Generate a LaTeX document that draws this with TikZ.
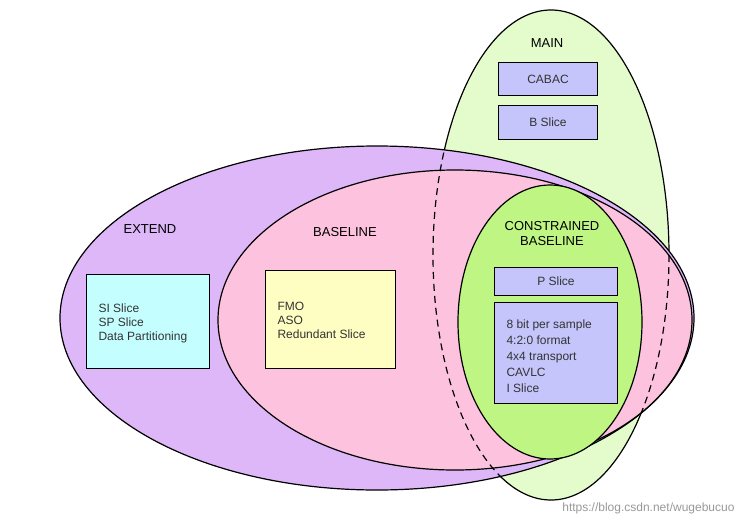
\documentclass[tikz,border=0pt]{standalone}
\usepackage{fontspec}
\setmainfont{Liberation Sans}
\begin{document}
\begin{tikzpicture}[x=1pt,y=-1pt,
  set/.style={draw=black,line width=1.2pt},
  box/.style={draw=black,line width=1pt,anchor=north west,inner sep=0pt},
  lbl/.style={font=\fontsize{13}{15}\selectfont},
  txt/.style={font=\fontsize{12}{14}\selectfont,align=left,text=black!80}]
\useasboundingbox (0,0) rectangle (740,520);
\fill[white] (0,0) rectangle (740,520);
\definecolor{mainc}{HTML}{E4FCCB}
\definecolor{extc}{HTML}{DDB7F8}
\definecolor{basec}{HTML}{FDC3DE}
\definecolor{consc}{HTML}{BFF683}
\definecolor{boxc}{HTML}{C5C5FC}
\definecolor{cyanc}{HTML}{C4FEFF}
\definecolor{yelc}{HTML}{FEFDC2}
\filldraw[set,fill=mainc] (551,255) ellipse [x radius=118, y radius=245];
\filldraw[set,fill=extc] (377,318) ellipse [x radius=317, y radius=172];
\filldraw[set,fill=basec] (455,320) ellipse [x radius=237, y radius=150];
\begin{scope}
\clip (377,318) ellipse [x radius=317, y radius=172];
\draw[set,dashed,dash pattern=on 7pt off 5pt] (551,255) ellipse [x radius=118, y radius=245];
\end{scope}
\filldraw[set,fill=consc] (550,322) ellipse [x radius=92, y radius=137];
\node[lbl] (tmain) at (547,43) {MAIN};
\node[lbl] (text) at (150,229) {EXTEND};
\node[lbl] (tbase) at (345,232) {BASELINE};
\node[lbl,align=center] (tcons) at (552,234) {CONSTRAINED\\BASELINE};
\node[box,fill=boxc,minimum width=99pt,minimum height=33pt] (cabac) at (498,62) {};
\node[txt] at (cabac.center) {CABAC};
\node[box,fill=boxc,minimum width=99pt,minimum height=34pt] (bs) at (498,105) {};
\node[txt] at (bs.center) {B Slice};
\node[box,fill=cyanc,minimum width=123pt,minimum height=94pt] (si) at (86,274) {};
\node[txt,anchor=west] at (95,323) {SI Slice\\SP Slice\\Data Partitioning};
\node[box,fill=yelc,minimum width=130pt,minimum height=98pt] (fmo) at (265,270) {};
\node[txt,anchor=west] at (274,320) {FMO\\ASO\\Redundant Slice};
\node[box,fill=boxc,minimum width=123pt,minimum height=28pt] (ps) at (494,267) {};
\node[txt] at (ps.center) {P Slice};
\node[box,fill=boxc,minimum width=123pt,minimum height=101pt] (big) at (494,302) {};
\node[txt,anchor=west,font=\fontsize{12}{16}\selectfont] at (503,356) {8 bit per sample\\4:2:0 format\\4x4 transport\\CAVLC\\I Slice};
\node[text=black!40,font=\fontsize{12}{14}\selectfont,anchor=east] (wm) at (738,508) {https://blog.csdn.net/wugebucuo};
\end{tikzpicture}
\end{document}
